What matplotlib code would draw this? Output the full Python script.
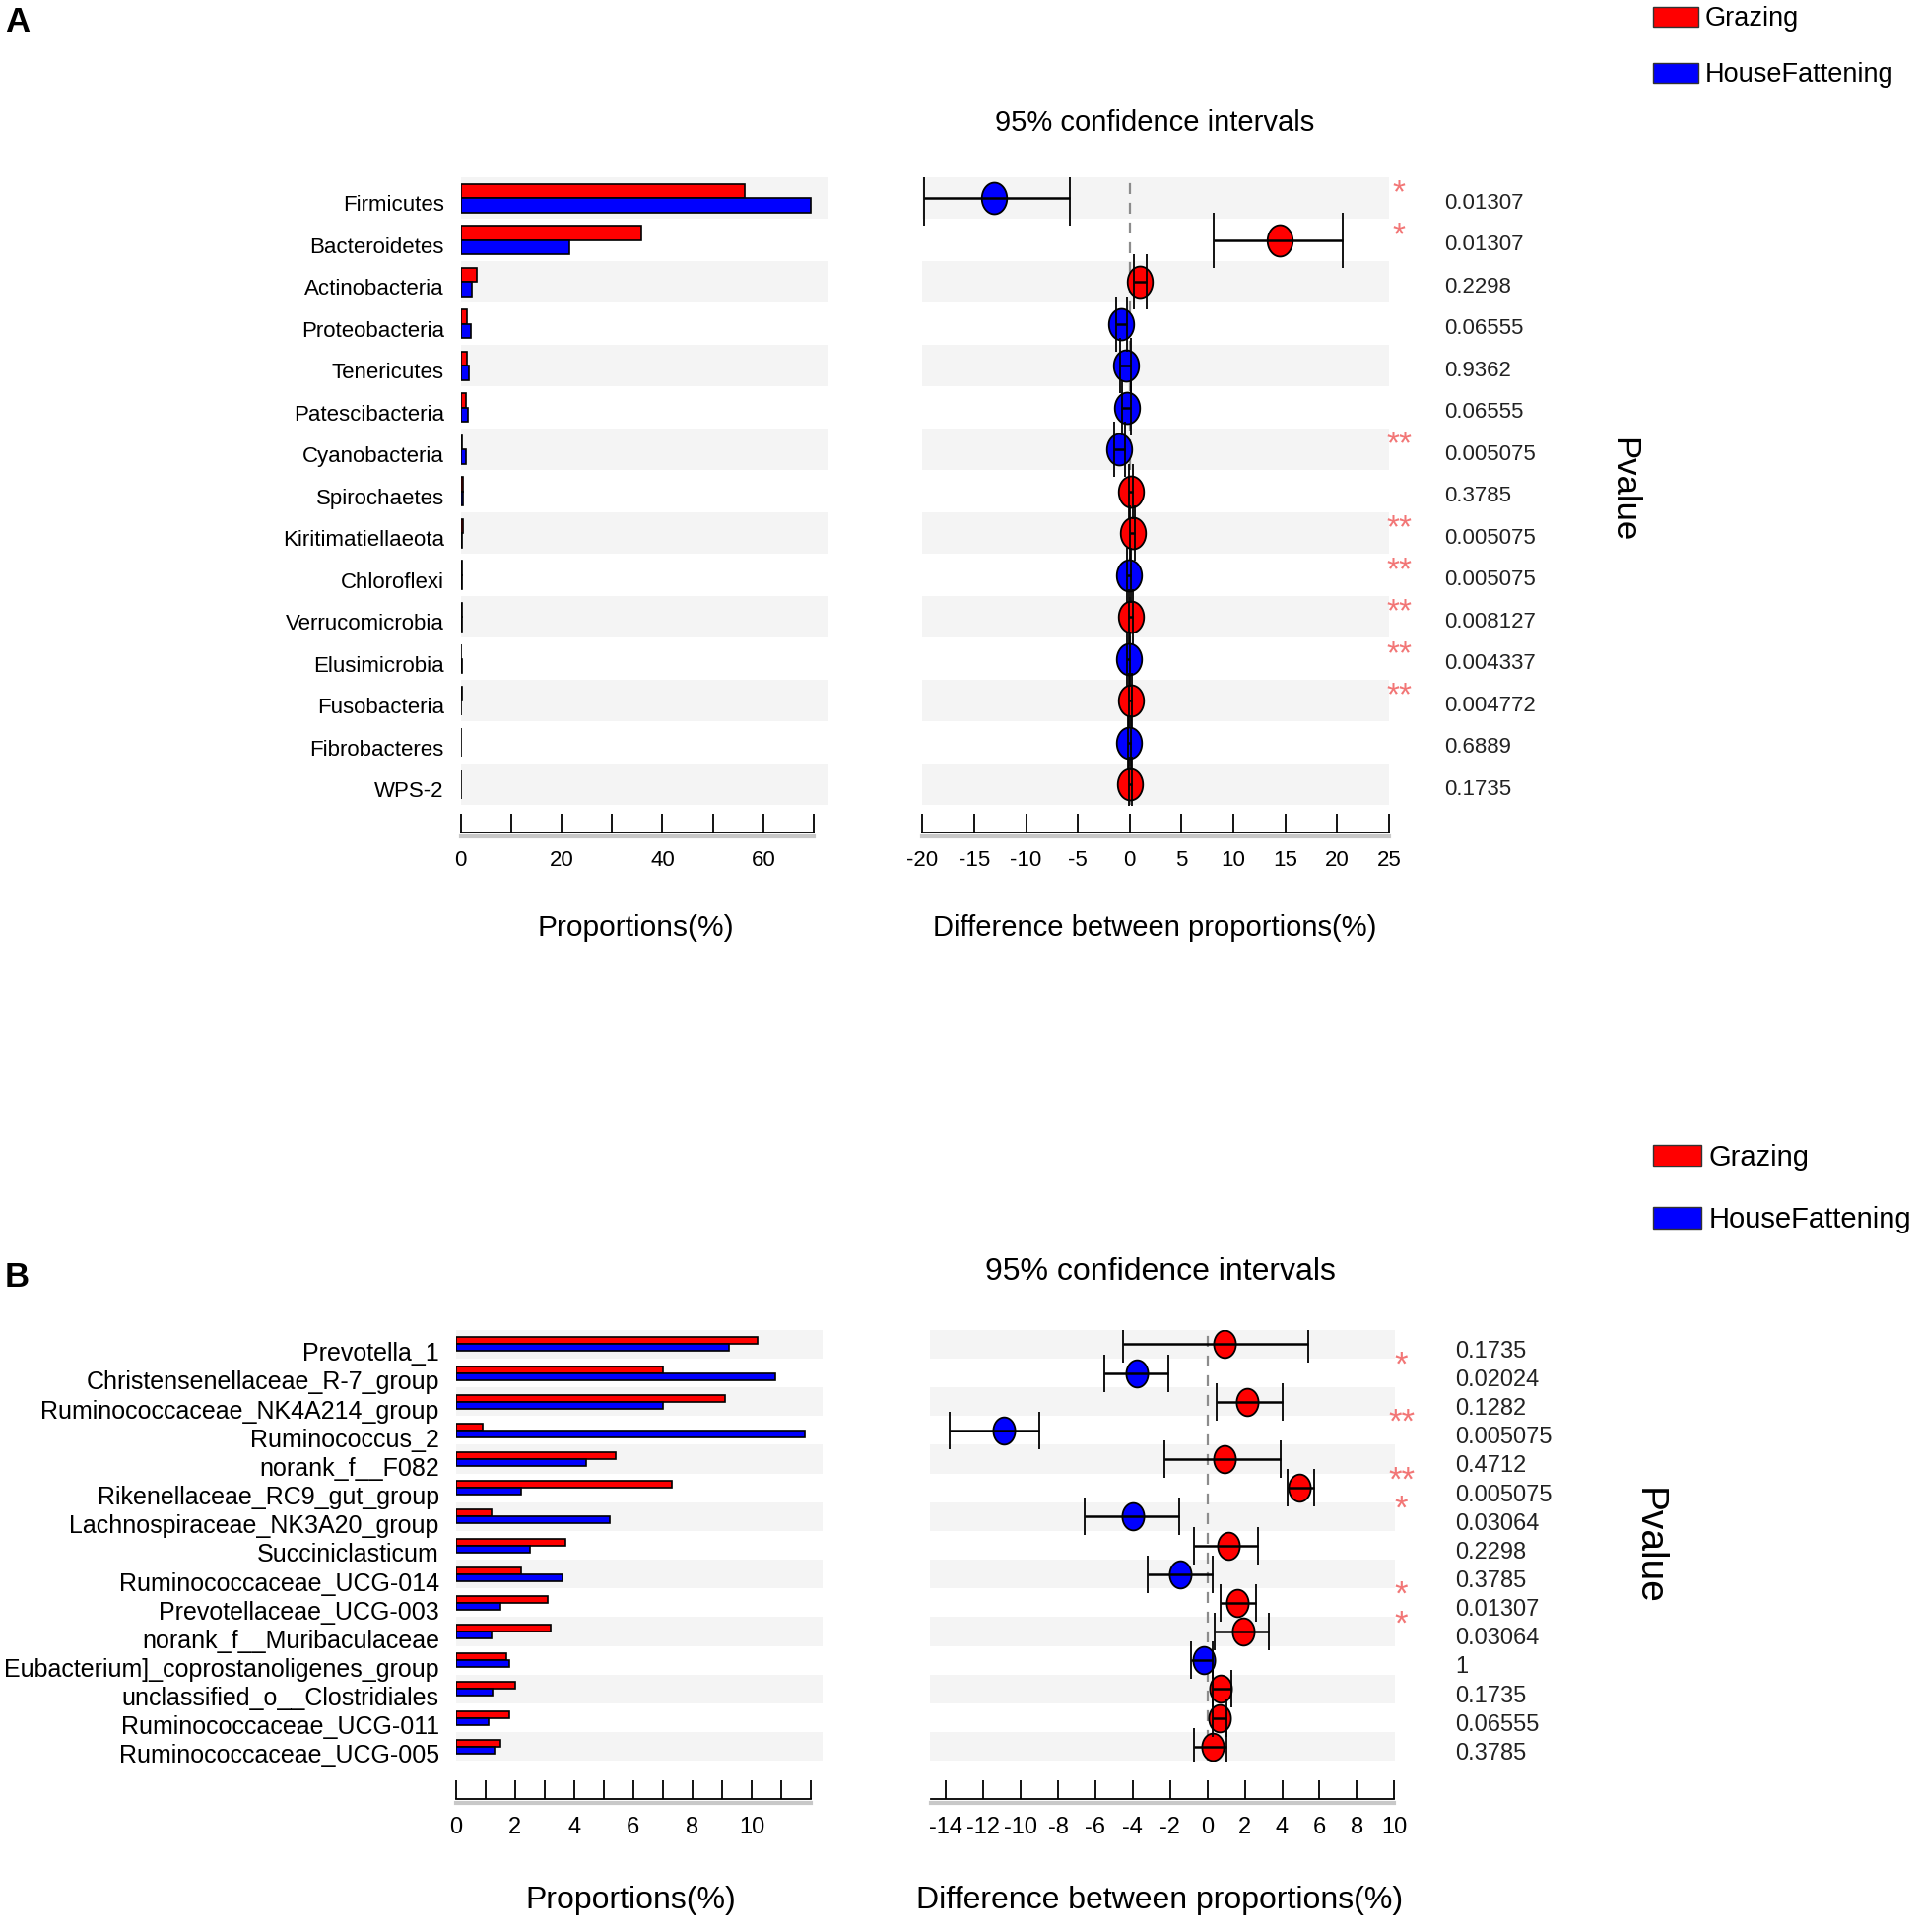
import numpy as np
import matplotlib.pyplot as plt
from matplotlib.path import Path
from matplotlib.patches import Patch
from matplotlib import transforms

plt.rcParams['font.family'] = ['Liberation Sans Narrow', 'Liberation Sans', 'DejaVu Sans']

RED = '#FF0000'
BLUE = '#0000FF'
STAR = '#F27676'
STRIPE = '#F4F4F4'

# panel A, phylum level
phyla = ['Firmicutes', 'Bacteroidetes', 'Actinobacteria', 'Proteobacteria', 'Tenericutes',
         'Patescibacteria', 'Cyanobacteria', 'Spirochaetes', 'Kiritimatiellaeota', 'Chloroflexi',
         'Verrucomicrobia', 'Elusimicrobia', 'Fusobacteria', 'Fibrobacteres', 'WPS-2']
a_grazing = [56.3, 35.9, 3.2, 1.2, 1.2, 1.0, 0.2, 0.5, 0.5, 0.2, 0.3, 0.1, 0.2, 0.1, 0.1]
a_house = [69.3, 21.5, 2.2, 2.0, 1.7, 1.5, 1.0, 0.4, 0.2, 0.3, 0.2, 0.2, 0.1, 0.15, 0.05]
a_diff = [-13.1, 14.5, 1.0, -0.8, -0.4, -0.3, -1.0, 0.1, 0.3, -0.1, 0.1, -0.1, 0.1, -0.05, 0.05]
a_low = [-19.8, 8.1, 0.4, -1.3, -0.9, -0.7, -1.5, -0.1, 0.0, -0.3, -0.1, -0.25, -0.05, -0.2, -0.1]
a_high = [-5.8, 20.5, 1.6, -0.3, 0.1, 0.1, -0.5, 0.3, 0.5, 0.1, 0.3, 0.05, 0.25, 0.1, 0.2]
a_pval = [0.01307, 0.01307, 0.2298, 0.06555, 0.9362, 0.06555, 0.005075, 0.3785, 0.005075,
          0.005075, 0.008127, 0.004337, 0.004772, 0.6889, 0.1735]

# panel B, genus level
genera = ['Prevotella_1', 'Christensenellaceae_R-7_group', 'Ruminococcaceae_NK4A214_group',
          'Ruminococcus_2', 'norank_f__F082', 'Rikenellaceae_RC9_gut_group',
          'Lachnospiraceae_NK3A20_group', 'Succiniclasticum', 'Ruminococcaceae_UCG-014',
          'Prevotellaceae_UCG-003', 'norank_f__Muribaculaceae',
          'Eubacterium]_coprostanoligenes_group', 'unclassified_o__Clostridiales',
          'Ruminococcaceae_UCG-011', 'Ruminococcaceae_UCG-005']
b_grazing = [10.2, 7.0, 9.1, 0.9, 5.4, 7.3, 1.2, 3.7, 2.2, 3.1, 3.2, 1.7, 2.0, 1.8, 1.5]
b_house = [9.25, 10.8, 7.0, 11.8, 4.4, 2.2, 5.2, 2.5, 3.6, 1.5, 1.2, 1.8, 1.25, 1.1, 1.3]
b_diff = [0.9, -3.8, 2.1, -10.9, 0.9, 4.9, -4.0, 1.1, -1.45, 1.6, 1.9, -0.2, 0.7, 0.65, 0.3]
b_low = [-4.5, -5.5, 0.5, -13.8, -2.3, 4.3, -6.6, -0.7, -3.2, 0.7, 0.4, -0.9, 0.3, 0.3, -0.7]
b_high = [5.4, -2.1, 4.0, -9.0, 3.9, 5.7, -1.5, 2.7, 0.3, 2.6, 3.3, 0.3, 1.3, 1.0, 1.0]
b_pval = [0.1735, 0.02024, 0.1282, 0.005075, 0.4712, 0.005075, 0.03064, 0.2298, 0.3785,
          0.01307, 0.03064, 1, 0.1735, 0.06555, 0.3785]

W, H = 1560.0, 1569.0  # layout measured on the reference


def fx(x):
    return x / W


def fy(y):
    return 1 - y / H


def ellipse():
    t = np.linspace(0, 2 * np.pi, 61)
    return Path(np.column_stack([0.8 * np.cos(t), np.sin(t)]), closed=True)


fig = plt.figure(figsize=(19.5, 19.61), dpi=100)


def stars(p):
    if p < 0.01:
        return '**'
    if p < 0.05:
        return '*'
    return ''


def draw_panel(top, bottom, bar_x, ci_x, names, grazing, house, diff, low, high, pvals,
               bar_lim, bar_major, bar_minor, ci_lim, ci_ticks, ci_bounds,
               bar_h, ms, capsize, label_fs, tick_fs, spine_out, tick_pad,
               label_dy, star_dy, star_x, p_x):
    n = len(names)
    y = np.arange(n)
    axb = fig.add_axes([fx(bar_x[0]), fy(bottom), fx(bar_x[1] - bar_x[0]), (bottom - top) / H])
    axc = fig.add_axes([fx(ci_x[0]), fy(bottom), fx(ci_x[1] - ci_x[0]), (bottom - top) / H])
    for ax in (axb, axc):
        for i in range(0, n, 2):
            ax.axhspan(i - 0.5, i + 0.5, color=STRIPE, lw=0, zorder=0)
        ax.set_ylim(n - 0.5, -0.5)
        for s in ('top', 'right', 'left'):
            ax.spines[s].set_visible(False)
        ax.spines['bottom'].set_position(('outward', spine_out))
        ax.spines['bottom'].set_linewidth(1.3)
        ax.tick_params(axis='x', which='both', direction='in', length=14, width=1.3,
                       pad=tick_pad, labelsize=tick_fs)
        ax.tick_params(axis='y', length=0)
        ax.patch.set_visible(False)

    # proportions
    axb.barh(y - bar_h / 2, grazing, height=bar_h, color=RED, edgecolor='black', lw=1.2)
    axb.barh(y + bar_h / 2, house, height=bar_h, color=BLUE, edgecolor='black', lw=1.2)
    axb.set_xlim(*bar_lim)
    axb.set_xticks(bar_major)
    axb.set_xticks(bar_minor, minor=True)
    axb.spines['bottom'].set_bounds(bar_lim[0], max(bar_minor + bar_major))
    axb.set_yticks(y + label_dy)
    axb.set_yticklabels(names, fontsize=label_fs)
    axb.tick_params(axis='y', pad=12)

    # differences with 95% CI
    diff = np.array(diff)
    low = np.array(low)
    high = np.array(high)
    axc.axvline(0, color='#8C8C8C', ls=(0, (5, 4)), lw=1.6, zorder=1)
    for mask, col in ((diff > 0, RED), (diff <= 0, BLUE)):
        axc.plot(diff[mask], y[mask], ls='none', marker=ellipse(), ms=ms, mfc=col,
                 mec='black', mew=1.3, zorder=3)
    axc.errorbar(diff, y, xerr=[diff - low, high - diff], fmt='none', ecolor='black',
                 elinewidth=1.8, capsize=capsize, capthick=1.3, zorder=4)
    axc.set_xlim(*ci_lim)
    axc.set_xticks(ci_ticks)
    axc.set_xticklabels([f'{t:g}' for t in ci_ticks])
    axc.spines['bottom'].set_bounds(*ci_bounds)
    axc.set_yticks([])

    # gray shadow below the detached axis lines
    for ax, lo, hi in ((axb, bar_lim[0], max(bar_minor + bar_major)), (axc, *ci_bounds)):
        tr = transforms.blended_transform_factory(
            ax.transData, transforms.offset_copy(ax.transAxes, fig=fig, y=-(spine_out + 3),
                                                 units='points'))
        ax.plot([lo, hi], [0, 0], color='#C8C8C8', lw=3, transform=tr, clip_on=False)

    trs = transforms.blended_transform_factory(fig.transFigure, axc.transData)
    for i, p in enumerate(pvals):
        axc.text(fx(p_x), i + label_dy, f'{p:g}', transform=trs, fontsize=tick_fs,
                 ha='left', va='center', color='#222222')
        s = stars(p)
        if s:
            axc.text(fx(star_x), i + star_dy, s, transform=trs, fontsize=tick_fs + 8,
                     ha='center', va='center', color=STAR)
    return axb, axc


draw_panel(144, 654, (374, 672), (749, 1128), phyla, a_grazing, a_house, a_diff, a_low,
           a_high, a_pval, (0, 72.7), [0, 20, 40, 60], [10, 30, 50, 70], (-20, 25),
           list(range(-20, 26, 5)), (-20, 25), 0.34, 23, 20, 16, 16, 20, 13,
           0.12, -0.1, 1136, 1173)

draw_panel(1080, 1430, (370, 668), (755, 1133), genera, b_grazing, b_house, b_diff, b_low,
           b_high, b_pval, (0, 12.4), [0, 2, 4, 6, 8, 10], [1, 3, 5, 7, 9, 11, 12],
           (-14.87, 10.05), list(range(-14, 11, 2)), (-14.8, 10),
           0.24, 20, 14, 18, 17, 28, 13, 0.25, -0.25, 1138, 1182)

# titles, axis labels, panel letters
fig.text(fx(938), fy(100), '95% confidence intervals', fontsize=21, ha='center', va='center')
fig.text(fx(938), fy(754), 'Difference between proportions(%)', fontsize=21,
         ha='center', va='center')
fig.text(fx(516), fy(754), 'Proportions(%)', fontsize=21.5, ha='center', va='center')
fig.text(fx(942), fy(1033), '95% confidence intervals', fontsize=23, ha='center', va='center')
fig.text(fx(942), fy(1543), 'Difference between proportions(%)', fontsize=23,
         ha='center', va='center')
fig.text(fx(512), fy(1543), 'Proportions(%)', fontsize=23, ha='center', va='center')
fig.text(fx(1318), fy(398), 'Pvalue', fontsize=25, rotation=-90, ha='center', va='center')
fig.text(fx(1338), fy(1256), 'Pvalue', fontsize=28, rotation=-90, ha='center', va='center')
fig.text(fx(4), fy(18), 'A', fontsize=25, fontweight='bold', family='Liberation Sans',
         ha='left', va='center')
fig.text(fx(4), fy(1037), 'B', fontsize=25, fontweight='bold', family='Liberation Sans',
         ha='left', va='center')

handles = [Patch(facecolor=RED, edgecolor='#333333', label='Grazing'),
           Patch(facecolor=BLUE, edgecolor='#333333', label='HouseFattening')]
for ly, fs, sp in ((5, 19.5, 1.15), (929, 21, 1.2)):
    fig.legend(handles=handles, loc='upper left', bbox_to_anchor=(fx(1342), fy(ly)),
               frameon=False, fontsize=fs, handlelength=1.7, handleheight=0.75,
               labelspacing=sp, handletextpad=0.25, borderaxespad=0, borderpad=0)

fig.savefig('out.png', dpi=100)
